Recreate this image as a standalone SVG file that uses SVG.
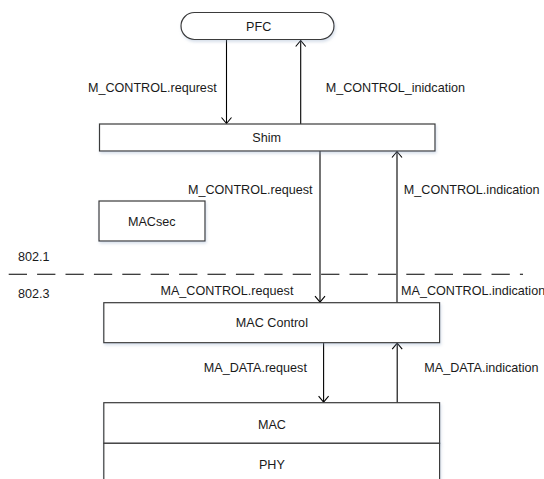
<svg xmlns="http://www.w3.org/2000/svg" width="544" height="479" viewBox="0 0 544 479">
<style>
  .box { fill: #ffffff; stroke: #3a3a3a; stroke-width: 1.2; filter: url(#sh); }
  .t { font-family: "Liberation Sans", Arial, sans-serif; font-size: 12.6px; fill: #1a1a1a; }
  .c { text-anchor: middle; }
  .e { text-anchor: end; }
  .ln { stroke: #000000; stroke-width: 1.1; fill: none; }
  .dash { stroke: #000000; stroke-width: 1.1; fill: none; stroke-dasharray: 18.3 10.1; }
</style>
<defs>
  <filter id="sh" x="-10%" y="-20%" width="130%" height="160%">
    <feDropShadow dx="1" dy="2" stdDeviation="1.5" flood-color="#8fa4c4" flood-opacity="0.35"/>
  </filter>
  <marker id="arr" markerUnits="userSpaceOnUse" markerWidth="12" markerHeight="12" refX="0" refY="0" viewBox="-7 -6 8 12" orient="auto">
    <path d="M-6,-5 L0,0 L-6,5" fill="none" stroke="#000000" stroke-width="1.1"/>
  </marker>
</defs>

<g id="connectors">
  <line class="ln" x1="226.5" y1="40" x2="226.5" y2="123.5" marker-end="url(#arr)"/>
  <line class="ln" x1="300.7" y1="124" x2="300.7" y2="40.5" marker-end="url(#arr)"/>
  <line class="ln" x1="320" y1="151" x2="320" y2="302.2" marker-end="url(#arr)"/>
  <line class="ln" x1="397" y1="302.7" x2="397" y2="151.5" marker-end="url(#arr)"/>
  <line class="ln" x1="323.6" y1="342.7" x2="323.6" y2="402.2" marker-end="url(#arr)"/>
  <line class="ln" x1="397.2" y1="402.7" x2="397.2" y2="343.2" marker-end="url(#arr)"/>
  <text class="t e" x="216.7" y="91.5">M_CONTROL.requrest</text>
  <text class="t" x="325.7" y="91.5">M_CONTROL_inidcation</text>
  <text class="t e" x="312.5" y="193.8">M_CONTROL.request</text>
  <text class="t" x="403.8" y="193.8">M_CONTROL.indication</text>
  <text class="t e" x="293.4" y="294.5">MA_CONTROL.request</text>
  <text class="t" x="401" y="294.5" font-size="12">MA_CONTROL.indication</text>
  <text class="t e" x="306.9" y="372.2">MA_DATA.request</text>
  <text class="t" x="424.3" y="372.2">MA_DATA.indication</text>
</g>

<g id="divider">
  <line class="dash" x1="8.7" y1="274.3" x2="523" y2="274.3"/>
  <text class="t" x="18" y="261.2">802.1</text>
  <text class="t" x="18" y="297.8">802.3</text>
</g>

<g id="pfc">
  <rect class="box" x="181" y="12.5" width="153" height="27" rx="13.5" ry="13.5"/>
  <text class="t c" x="258.7" y="31.2">PFC</text>
</g>

<g id="shim">
  <rect class="box" x="99.5" y="124" width="335.5" height="27"/>
  <text class="t c" x="266.7" y="142.2">Shim</text>
</g>

<g id="macsec">
  <rect class="box" x="99" y="201" width="106" height="40"/>
  <text class="t c" x="151.7" y="225.5">MACsec</text>
</g>

<g id="mac-control">
  <rect class="box" x="103.8" y="302.7" width="335.8" height="40"/>
  <text class="t c" x="271.9" y="327.2">MAC Control</text>
</g>

<g id="mac">
  <rect class="box" x="103.8" y="402.7" width="335.8" height="40.6"/>
  <text class="t c" x="271.9" y="428.8">MAC</text>
</g>

<g id="phy">
  <rect class="box" x="103.8" y="443.3" width="335.8" height="45"/>
  <text class="t c" x="271.9" y="468.5">PHY</text>
</g>
</svg>
